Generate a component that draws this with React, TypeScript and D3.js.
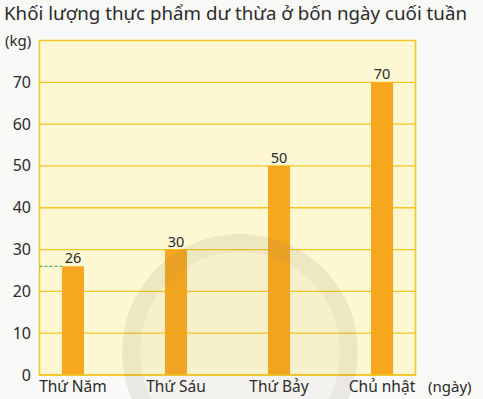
import React from "react";
import * as d3 from "d3";

const categories = ["Thứ Năm", "Thứ Sáu", "Thứ Bảy", "Chủ nhật"];
const values = [26, 30, 50, 70];
const yTicks = [0, 10, 20, 30, 40, 50, 60, 70];
const title = "Khối lượng thực phẩm dư thừa ở bốn ngày cuối tuần";
const yUnit = "(kg)";
const xUnit = "(ngày)";

const W = 483;
const H = 399;
const left = 39.5;
const right = 415.5;
const top = 40.5;
const bottom = 375;

export default function App() {
  const x = d3
    .scaleBand<string>()
    .domain(categories)
    .range([left, right])
    .paddingInner(0.786)
    .paddingOuter(0.218);
  const y = d3.scaleLinear().domain([0, 80]).range([bottom, top]);
  const font = "'Noto Sans', 'Open Sans', sans-serif";
  const grid = "#F3C623";
  const bar = "#F7A71E";
  const text = "#2a2a2a";
  const ring = d3.arc()({ innerRadius: 100, outerRadius: 118, startAngle: 0, endAngle: 2 * Math.PI }) as string;

  return (
    <svg
      width={W}
      height={H}
      style={{ position: "fixed", left: 0, top: 0, background: "#F9F9F7" }}
    >
      <rect x={0} y={0} width={W} height={H} fill="#F9F9F7" />
      <text x={4} y={19.5} fontFamily={font} fontSize={18} fill={text} textLength={463} lengthAdjust="spacingAndGlyphs">
        {title}
      </text>
      <text x={5} y={45.5} fontFamily={font} fontSize={15} fill={text}>
        {yUnit}
      </text>
      <rect x={left} y={top} width={right - left} height={bottom - top} fill="#FDF8D2" stroke={grid} strokeWidth={1.5} />
      {yTicks.filter((t) => t > 0).map((t) => (
        <line key={t} x1={left} x2={right} y1={y(t)} y2={y(t)} stroke={grid} strokeWidth={1.3} />
      ))}
      {yTicks.map((t) => (
        <text key={"l" + t} x={31} y={y(t) + 5.5} textAnchor="end" fontFamily={font} fontSize={16} fill={text}>
          {t}
        </text>
      ))}
      <line
        x1={left}
        x2={x(categories[0])!}
        y1={y(values[0])}
        y2={y(values[0])}
        stroke="#2E9E3A"
        strokeWidth={1}
        strokeDasharray="3,2"
      />
      {categories.map((c, i) => (
        <g key={c}>
          <rect x={x(c)!} y={y(values[i])} width={x.bandwidth()} height={bottom - y(values[i])} fill={bar} />
          <text x={x(c)! + x.bandwidth() / 2} y={y(values[i]) - 3} textAnchor="middle" fontFamily={font} fontSize={14.5} fill={text}>
            {values[i]}
          </text>
          <text x={x(c)! + x.bandwidth() / 2} y={392} textAnchor="middle" fontFamily={font} fontSize={15.5} fill={text}>
            {c}
          </text>
        </g>
      ))}
      <line x1={left} x2={right} y1={bottom} y2={bottom} stroke={grid} strokeWidth={1.5} />
      <text x={428} y={392} fontFamily={font} fontSize={15} fill={text}>
        {xUnit}
      </text>
      <g transform="translate(240,352)" pointerEvents="none">
        <path d={ring} fill="#8A7A55" opacity={0.13} />
        <circle r={100} fill="#8A7A55" opacity={0.05} />
      </g>
    </svg>
  );
}
